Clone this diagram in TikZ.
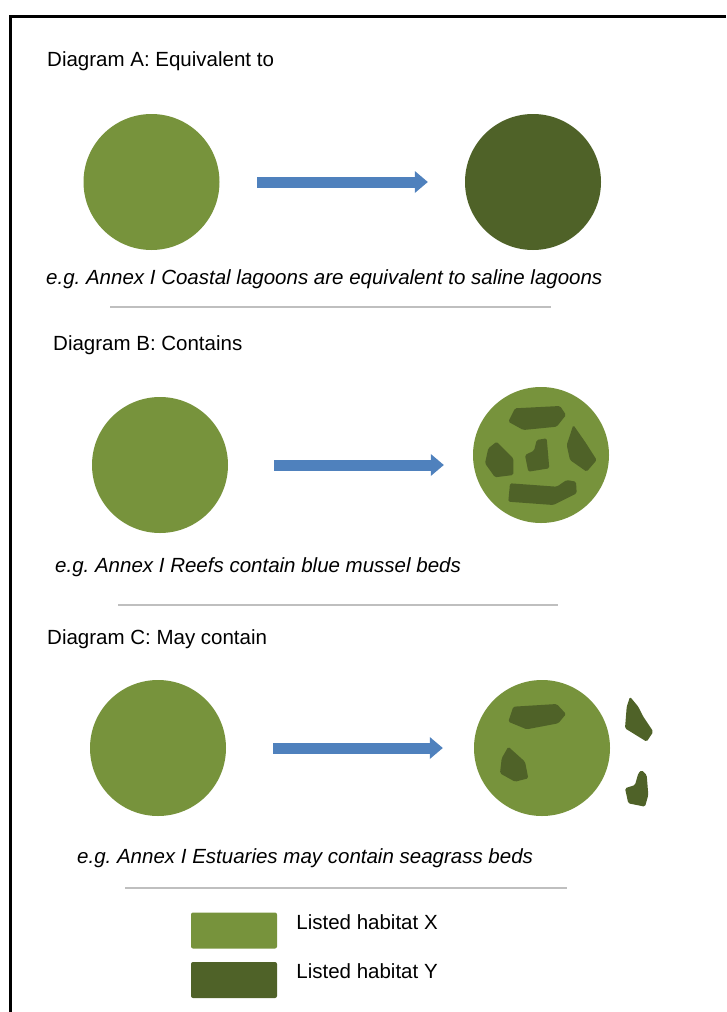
\documentclass[tikz,border=0pt]{standalone}
\usepackage{fontspec}
\setmainfont{Liberation Sans}
\usetikzlibrary{arrows.meta, positioning}
\frenchspacing

\definecolor{habx}{HTML}{77933C}
\definecolor{haby}{HTML}{4F6228}
\definecolor{flowblue}{HTML}{4F81BD}
\definecolor{flowedge}{HTML}{3F6CA6}
\definecolor{rulegray}{HTML}{BFBFBF}

\tikzset{
  habitat/.style={circle, minimum size=136pt, inner sep=0pt, fill=habx},
  flow/.style={line width=11pt, flowblue, -{Triangle[width=22pt, length=13pt, line width=0pt]}},
  patch/.style={fill=haby, rounded corners=1.5pt},
  heading/.style={anchor=base west, inner sep=0pt, font=\fontsize{20.5}{24}\selectfont},
  egtext/.style={heading, font=\fontsize{20.5}{24}\selectfont\itshape},
  divider/.style={rulegray, line width=1.2pt},
  legbox/.style={fill=#1, rounded corners=2pt, minimum width=86pt, minimum height=36pt, inner sep=0pt},
}

\begin{document}
\begin{tikzpicture}[x=1pt, y=-1pt]
    \useasboundingbox (0,0) rectangle (726,1012);
    \draw [line width=3pt] (726,16) -- (10,16) -- (10,1012);

    % Diagram A
    \node [heading] (heada) at (47,66) {Diagram A: Equivalent to};
    \node [habitat] (xa) at (151.5,182) {};
    \node [habitat, fill=haby] (ya) at (533,182) {};
    \draw [flow, shorten <=37.5pt, shorten >=37pt] (xa.east) -- (xa.east -| ya.west);
    \node [egtext] (ega) at (46,284) {e.g. Annex I Coastal lagoons are equivalent to saline lagoons};
    \draw [divider] (110,307) -- (551,307);

    % Diagram B
    \node [heading] (headb) at (53,350) {Diagram B: Contains};
    \node [habitat] (xb) at (160,465) {};
    \node [habitat] (yb) at (541,455) {};
    \draw [flow, shorten <=46pt, shorten >=29pt] (xb.east) -- (xb.east -| yb.west);
    \begin{scope}[shift={(yb.center)}]
        \fill [patch] (-26,-46.7) -- (19,-49) -- (25,-40) -- (15.7,-28.3) -- (-17.7,-25) -- (-32.7,-33.3) -- cycle;
        \fill [patch] (-44.3,-13.3) -- (-27.7,3.3) -- (-27.7,20) -- (-46,22.3) -- (-56,8.3) -- (-52.7,-6.7) -- cycle;
        \fill [patch] (-4.3,-15) -- (5.7,-16.7) -- (8.3,13.3) -- (-12.7,16.7) -- (-16,0) -- (-7,-4.3) -- cycle;
        \fill [patch] (32.3,-30) -- (44,-13.3) -- (55.7,5) -- (45.7,16.7) -- (29,5) -- (25.7,-10) -- cycle;
        \fill [patch] (-31,28.3) -- (15.7,31.7) -- (25.7,25) -- (35,26.7) -- (35.7,38.3) -- (12.3,50) -- (-32.7,46.7) -- cycle;
    \end{scope}
    \node [egtext] (egb) at (55,572) {e.g. Annex I Reefs contain blue mussel beds};
    \draw [divider] (118,605) -- (558,605);

    % Diagram C
    \node [heading] (headc) at (47,644) {Diagram C: May contain};
    \node [habitat] (xc) at (158,748) {};
    \node [habitat] (yc) at (542,748) {};
    \draw [flow, shorten <=47pt, shorten >=31pt] (xc.east) -- (xc.east -| yc.west);
    \begin{scope}[shift={(yc.center)}]
        \fill [patch] (-28.7,-41.3) -- (14.7,-44) -- (24,-34) -- (16.3,-24.7) -- (-15.3,-18.7) -- (-33.7,-26.3) -- cycle;
        \fill [patch] (-33.7,-1.3) -- (-17,13.7) -- (-13.7,30.3) -- (-27,33.7) -- (-42,25.3) -- (-40.3,10.3) -- cycle;
        \fill [patch] (88,-51.3) -- (96.3,-41.3) -- (101.3,-31.3) -- (111.3,-16.3) -- (104.7,-6.3) -- (83,-19.7) -- (84.7,-41.3) -- cycle;
        \fill [patch] (99.7,22) -- (104.7,27) -- (106.3,47) -- (103,58.7) -- (86.3,55.3) -- (83,40.3) -- (93,37) -- (96.3,25.3) -- cycle;
    \end{scope}
    \node [egtext] (egc) at (77,863) {e.g. Annex I Estuaries may contain seagrass beds};
    \draw [divider] (125,888) -- (567,888);

    % Legend
    \node [legbox=habx] (legx) at (234,930.5) {};
    \node [legbox=haby] (legy) at (234,980) {};
    \node [heading, anchor=north west] (labx) at ([xshift=19pt, yshift=-2pt]legx.north east) {Listed habitat X};
    \node [heading, anchor=north west] (laby) at ([xshift=19pt, yshift=-2pt]legy.north east) {Listed habitat Y};
\end{tikzpicture}
\end{document}
